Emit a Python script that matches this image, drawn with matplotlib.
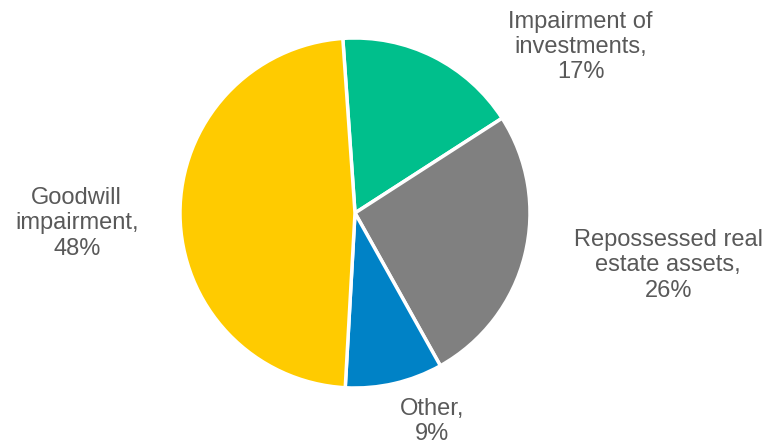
import matplotlib.pyplot as plt

# Impairment breakdown by category
categories = ['Impairment of\ninvestments,', 'Repossessed real\nestate assets,', 'Other,', 'Goodwill\nimpairment,']
shares = [17, 26, 9, 48]
colors = ['#00BF8C', '#808080', '#0082C6', '#FFCB00']

# label anchor points (pie radius = 1)
label_pos = [(1.29, 0.95), (1.79, -0.30), (0.44, -1.19), (-1.59, -0.06)]

plt.rcParams['font.family'] = ['Liberation Sans', 'DejaVu Sans']

fig = plt.figure(figsize=(7.75, 4.45), dpi=100)
ax = fig.add_axes([0, 0, 1, 1])

ax.pie(shares, colors=colors, startangle=94, counterclock=False, radius=1,
       wedgeprops=dict(edgecolor='white', linewidth=2.5))

for cat, val, (x, y) in zip(categories, shares, label_pos):
    ax.text(x, y, f'{cat}\n{val}%', ha='center', va='center', fontsize=17,
            color='#595959', linespacing=1.18)

ax.set_xlim(-355 / 175, 420 / 175)
ax.set_ylim(-232 / 175, 213 / 175)
ax.set_aspect('equal')
ax.axis('off')

fig.savefig('out.png', dpi=100)
